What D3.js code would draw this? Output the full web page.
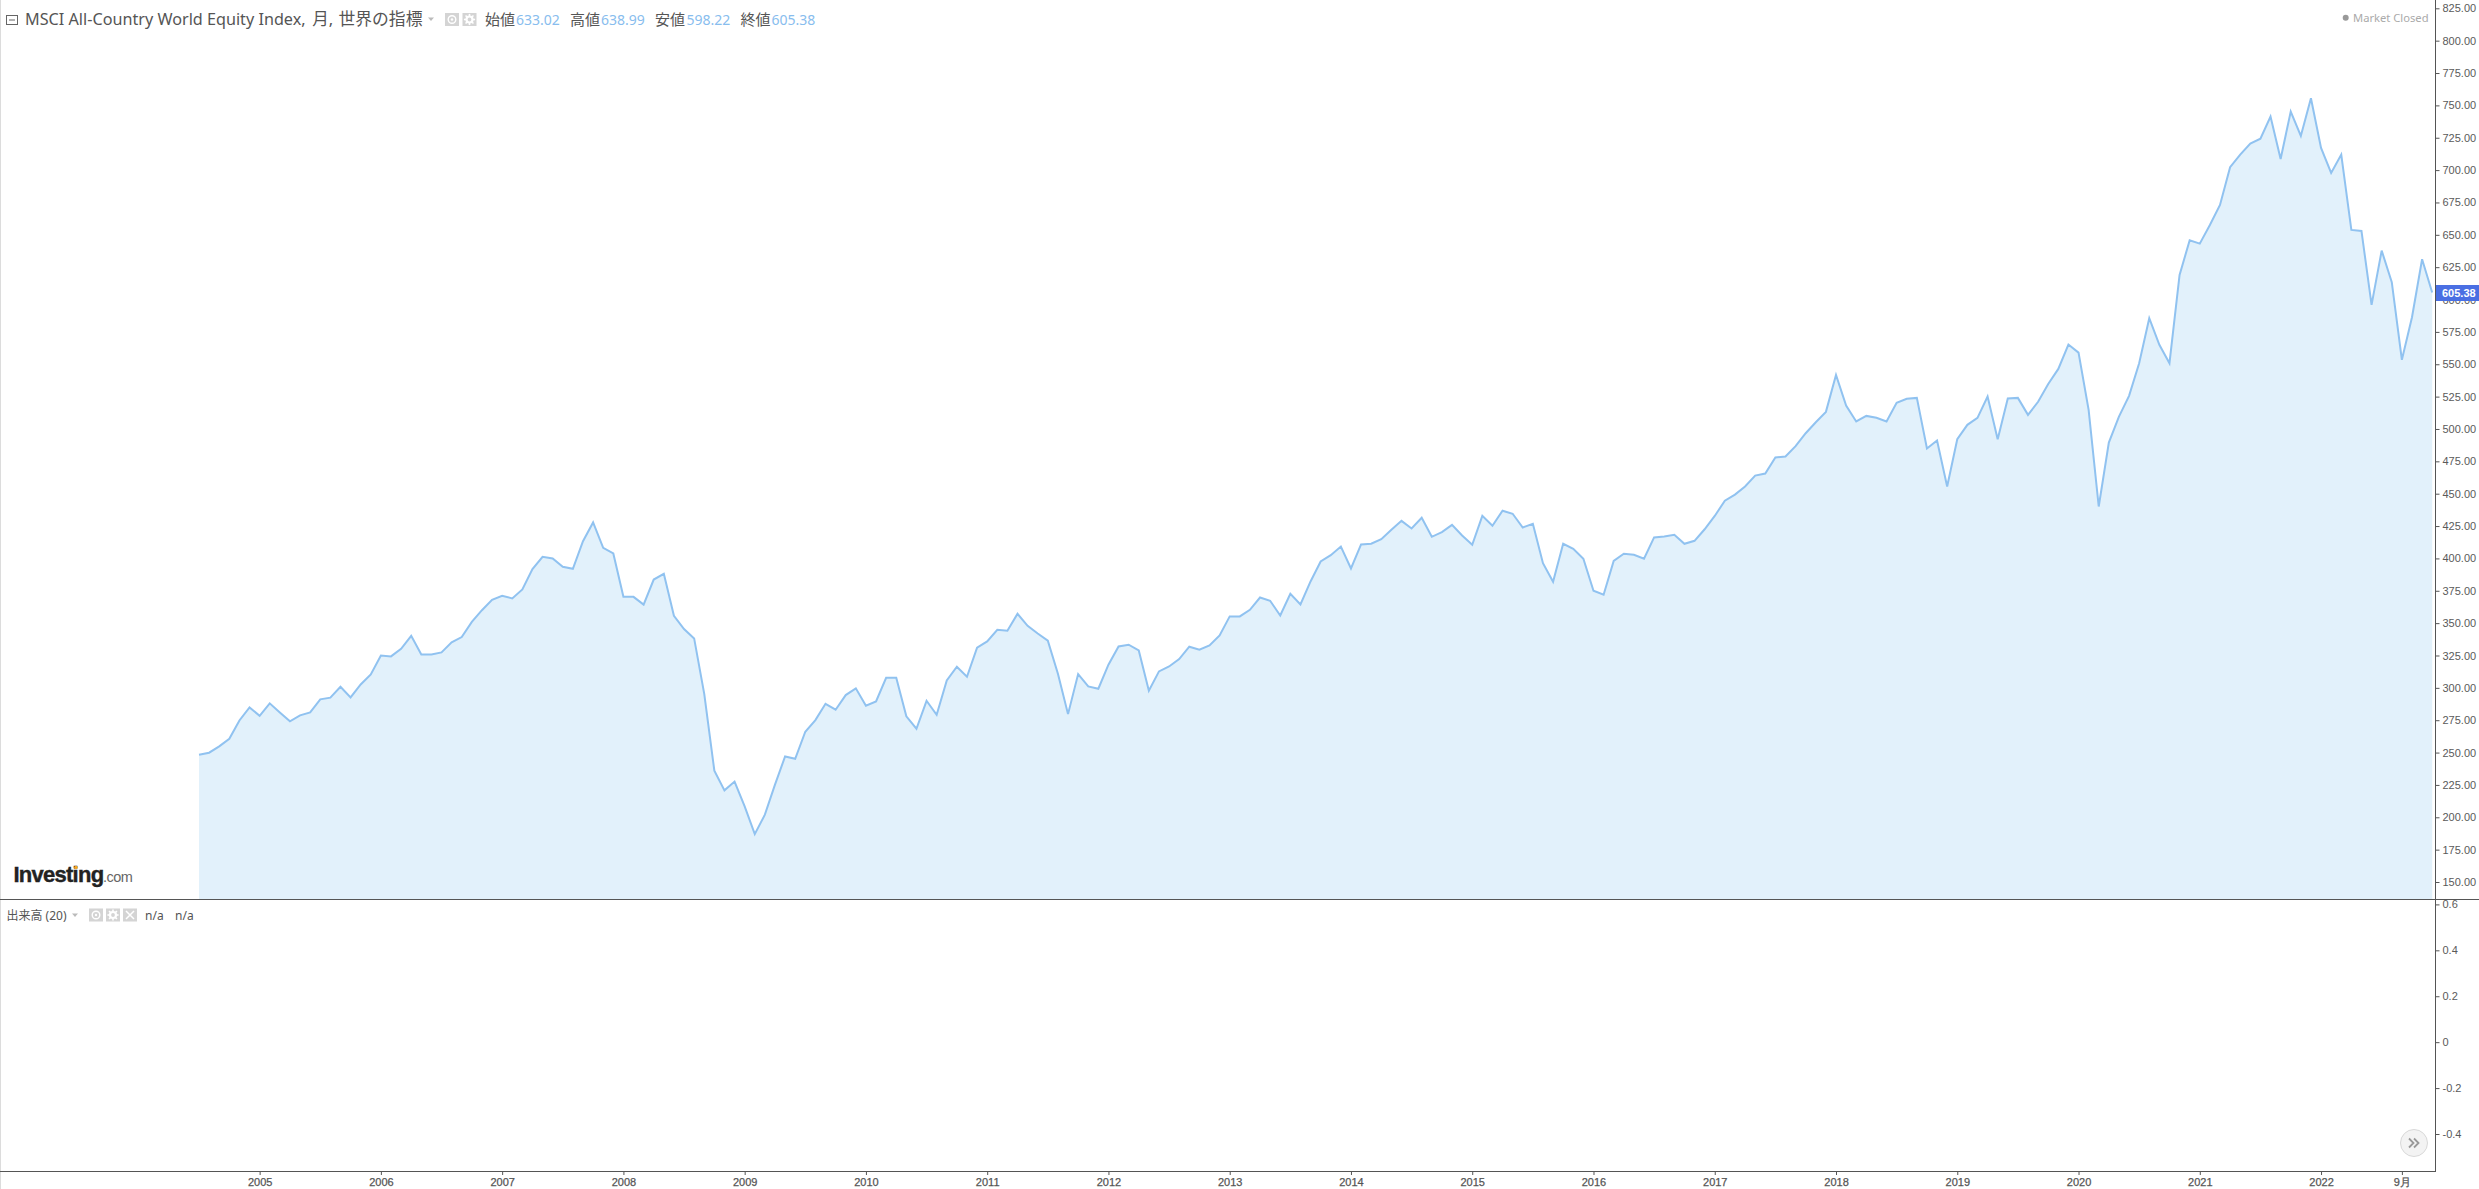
<!DOCTYPE html>
<html><head><meta charset="utf-8">
<script src="https://d3js.org/d3.v7.min.js"></script>
<style>
html,body{margin:0;padding:0;background:#fff;overflow:hidden}
svg{display:block}
.ax text{font-family:"Liberation Sans",Arial,sans-serif;font-size:11px;fill:#5a5a5a}
.hd{font-family:"Noto Sans","Noto Sans CJK JP",sans-serif;fill:#555}
</style></head><body>
<svg id="c" width="2479" height="1189"></svg>
<script>
const closeValues=[248.3,249.9,254.8,260.7,274.8,284.9,278.4,288.0,281.0,274.1,278.7,281.0,291.1,292.4,300.8,292.6,302.6,310.4,325.0,324.3,330.2,340.2,325.8,325.8,327.4,335.1,339.2,351.0,360.0,368.0,371.1,369.1,376.0,391.7,401.2,399.9,393.5,392.0,413.3,427.8,408.2,403.8,370.3,370.3,364.3,383.7,388.1,355.7,
345.4,338.2,295.3,236.0,220.8,227.6,208.4,187.0,202.0,225.2,247.0,245.2,266.1,275.1,287.7,283.1,294.4,299.6,286.2,289.5,307.8,307.8,278.0,268.4,290.0,279.2,305.7,316.3,308.6,331.0,335.9,344.9,344.1,357.2,347.9,342.0,336.4,310.9,279.7,310.6,301.1,299.3,317.9,332.0,333.3,328.9,297.8,312.7,316.5,322.2,331.8,329.5,
332.8,340.5,355.2,355.2,360.3,369.8,367.3,355.9,372.7,364.4,382.2,397.6,402.5,409.2,392.2,410.8,411.3,414.9,422.1,429.0,423.1,431.4,416.7,420.3,425.9,417.7,410.5,432.9,425.2,436.8,434.5,423.9,426.7,396.3,381.9,411.3,407.4,399.7,375.0,371.9,398.1,403.6,402.8,399.7,416.2,417.0,418.2,411.3,413.6,422.5,432.8,444.6,449.3,455.6,
464.0,465.6,478.0,478.7,486.7,496.7,505.2,513.2,541.8,518.1,505.8,510.1,508.6,505.8,520.2,523.3,524.0,484.9,491.1,455.6,492.1,503.2,508.6,525.1,492.1,523.5,524.0,510.9,521.0,534.8,546.4,565.2,559.0,514.8,440.1,489.5,509.6,525.6,550.8,585.6,
565.0,550.8,619.0,645.8,643.2,657.6,673.1,702.2,712.0,720.5,724.3,741.3,708.6,745.2,726.4,755.5,717.1,697.8,712.0,653.8,653.0,595.9,637.8,613.4,553.4,586.3,631.1,605.38];
const priceTicks=[150,175,200,225,250,275,300,325,350,375,400,425,450,475,500,525,550,575,600,625,650,675,700,725,750,775,800,825];
const volumeTicks=[-0.4,-0.2,0,0.2,0.4,0.6];
const monthTickIndex=[6,18,30,42,54,66,78,90,102,114,126,138,150,162,174,186,198,210,218];
const monthTickLabels=['2005','2006','2007','2008','2009','2010','2011','2012','2013','2014','2015','2016','2017','2018','2019','2020','2021','2022','9月'];
const ohlcLabels=['始値','高値','安値','終値'];
const ohlcValues=['633.02','638.99','598.22','605.38'];

const svg=d3.select('#c');
const axisX=2435.5, sepY=899, botY=1171;
const x=d3.scaleLinear().domain([0,221]).range([199,2432.2]);
const y=d3.scaleLinear().domain([150,825]).range([882,8.3]);
const yv=d3.scaleLinear().domain([-0.4,0.6]).range([1134,904.4]);

svg.append('rect').attr('x',0).attr('y',0).attr('width',1).attr('height',1189).attr('fill','#dcdcdc');

const area=d3.area().x((d,i)=>x(i)).y0(sepY).y1(d=>y(d));
const line=d3.line().x((d,i)=>x(i)).y(d=>y(d));
svg.append('path').datum(closeValues).attr('d',area).attr('fill','#e2f1fb');
svg.append('path').datum(closeValues).attr('d',line).attr('fill','none').attr('stroke','#90c2f0').attr('stroke-width',2);

function styleAxis(g){
  g.select('.domain').remove();
  g.selectAll('.tick line').attr('stroke','#555');
}
const gy=svg.append('g').attr('class','ax').attr('transform',`translate(${axisX},0)`)
  .call(d3.axisRight(y).tickValues(priceTicks).tickSize(4).tickPadding(3).tickFormat(d3.format('.2f')));
styleAxis(gy);
const gv=svg.append('g').attr('class','ax').attr('transform',`translate(${axisX},0)`)
  .call(d3.axisRight(yv).tickValues(volumeTicks).tickSize(4).tickPadding(3).tickFormat((d)=>d===0?'0':String(d)));
styleAxis(gv);
const gx=svg.append('g').attr('class','ax').attr('transform',`translate(0,${botY})`)
  .call(d3.axisBottom(x).tickValues(monthTickIndex).tickSize(4).tickPadding(3).tickFormat((d,i)=>monthTickLabels[i]));
styleAxis(gx);
gx.selectAll('text').style('fill','#555').attr('stroke','#555').attr('stroke-width',0.25);

const rule=(x1,y1,x2,y2)=>svg.append('line').attr('x1',x1).attr('y1',y1).attr('x2',x2).attr('y2',y2).attr('stroke','#555').attr('stroke-width',1);
rule(0,sepY+0.5,2479,sepY+0.5);
rule(0,botY+0.5,axisX+0.5,botY+0.5);
rule(axisX,0,axisX,botY+0.5);

const last=closeValues[closeValues.length-1];
svg.append('rect').attr('x',axisX+0.5).attr('y',Math.round(y(last))-8).attr('width',43).attr('height',16).attr('fill','#4a6fe3');
svg.append('text').attr('x',2442).attr('y',y(last)+4).attr('fill','#fff').attr('font-family','"Liberation Sans",Arial,sans-serif').attr('font-size',11).attr('font-weight',700).text(d3.format('.2f')(last));

// header
const txt=(x0,yy,s,size,col)=>{const t=svg.append('text').attr('class','hd').attr('x',x0).attr('y',yy).attr('font-size',size).text(s);if(col)t.style('fill',col);return t;};
svg.append('rect').attr('x',6.5).attr('y',15.5).attr('width',11).attr('height',9).attr('fill','none').attr('stroke','#666');
svg.append('line').attr('x1',9).attr('x2',15).attr('y1',20).attr('y2',20).attr('stroke','#666');
const title=svg.append('text').attr('class','hd').attr('y',25);
title.append('tspan').attr('x',25).attr('font-size',16.2).text('MSCI All-Country World Equity Index,');
title.append('tspan').attr('x',308).attr('font-size',16.5).text(' 月,');
title.append('tspan').attr('x',338.5).attr('font-size',16.8).text('世界の指標');
const caret=(cx,cy)=>svg.append('path').attr('d',`M${cx-3},${cy-1.5}L${cx+3},${cy-1.5}L${cx},${cy+2}Z`).attr('fill','#bbb');
caret(431,19);
function eye(bx,by){
  svg.append('rect').attr('x',bx).attr('y',by).attr('width',14).attr('height',13).attr('fill','#d4d4d4');
  svg.append('circle').attr('cx',bx+7).attr('cy',by+6.5).attr('r',3.8).attr('fill','none').attr('stroke','#fff').attr('stroke-width',1.4);
  svg.append('circle').attr('cx',bx+7).attr('cy',by+6.5).attr('r',1.2).attr('fill','#fff');
}
function gear(bx,by){
  svg.append('rect').attr('x',bx).attr('y',by).attr('width',14).attr('height',13).attr('fill','#d4d4d4');
  svg.append('circle').attr('cx',bx+7).attr('cy',by+6.5).attr('r',3).attr('fill','none').attr('stroke','#fff').attr('stroke-width',2.2);
  d3.range(8).forEach(k=>{const a=k*Math.PI/4;svg.append('line').attr('x1',bx+7+Math.cos(a)*3.5).attr('y1',by+6.5+Math.sin(a)*3.5).attr('x2',bx+7+Math.cos(a)*5.6).attr('y2',by+6.5+Math.sin(a)*5.6).attr('stroke','#fff').attr('stroke-width',1.6);});
}
function cross(bx,by){
  svg.append('rect').attr('x',bx).attr('y',by).attr('width',14).attr('height',13).attr('fill','#d4d4d4');
  svg.append('path').attr('d',`M${bx+3},${by+2.5}L${bx+11},${by+10.5}M${bx+11},${by+2.5}L${bx+3},${by+10.5}`).attr('stroke','#fff').attr('stroke-width',1.5);
}
eye(445,13);gear(462.5,13);
const labX=[485,570,655,740.5], valX=[516,601,686.5,771.5];
ohlcLabels.forEach((s,i)=>{txt(labX[i],25,s,15);txt(valX[i],24.5,ohlcValues[i],14,'#88bdee');});

svg.append('circle').attr('cx',2345.7).attr('cy',17.7).attr('r',3).attr('fill','#999');
txt(2353,22,'Market Closed',11.2,'#aaa');

// logo
svg.append('text').attr('x',13.5).attr('y',882).attr('font-family','"Liberation Sans",Arial,sans-serif').attr('font-weight',700).attr('font-size',22).attr('letter-spacing',-0.75).attr('fill','#222').attr('stroke','#222').attr('stroke-width',0.4).text('Investing');
svg.append('text').attr('x',103).attr('y',882).attr('font-family','"Liberation Sans",Arial,sans-serif').attr('font-size',14.5).attr('letter-spacing',-0.5).attr('fill','#666').text('.com');
svg.append('circle').attr('cx',76).attr('cy',867.5).attr('r',1.8).attr('fill','#f5a623');

// lower pane header
txt(6.5,920,'出来高 (20)',12);
caret(75,915);
eye(89,908.5);gear(106,908.5);cross(123,908.5);
txt(145,920,'n/a',12);txt(175,920,'n/a',12);

// scroll button
svg.append('circle').attr('cx',2414).attr('cy',1143).attr('r',13.5).attr('fill','#f3f3f3').attr('stroke','#d8d8d8');
svg.append('path').attr('d','M2409,1138.5l4.5,4.5l-4.5,4.5M2414,1138.5l4.5,4.5l-4.5,4.5').attr('fill','none').attr('stroke','#999').attr('stroke-width',1.8);
</script></body></html>
